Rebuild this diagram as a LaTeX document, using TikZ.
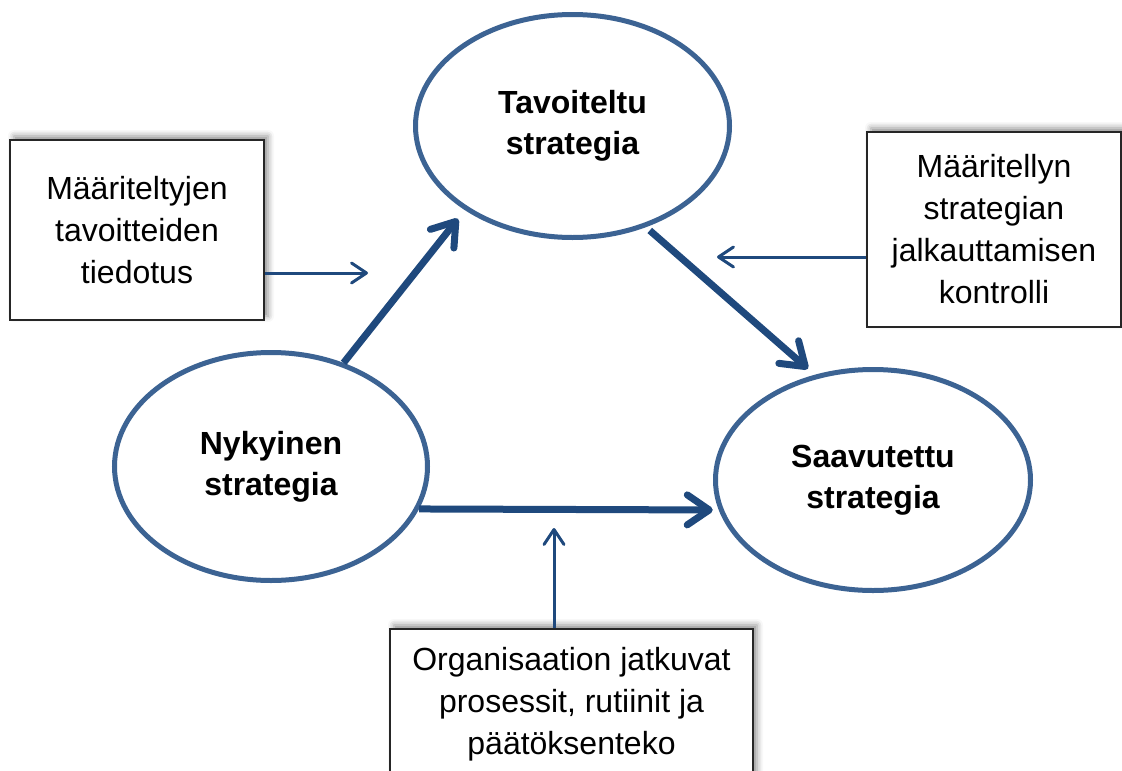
\documentclass[tikz,border=0pt]{standalone}
\usepackage{fontspec}
\setmainfont{Liberation Sans}
\usetikzlibrary{shapes.geometric,arrows.meta,shadows.blur}
\definecolor{ringblue}{HTML}{3C6393}
\definecolor{arrowblue}{HTML}{1F497D}
\definecolor{boxline}{HTML}{262626}
\begin{document}
\begin{tikzpicture}[x=1pt,y=-1pt,
  stage/.style={ellipse, draw=ringblue, line width=5pt, fill=white, align=center,
    font=\bfseries\fontsize{32}{41}\selectfont, inner sep=0pt},
  infobox/.style={rectangle, draw=boxline, line width=1.5pt, fill=white, align=center,
    font=\fontsize{32}{42}\selectfont, inner sep=0pt,
    blur shadow={shadow xshift=4pt, shadow yshift=4pt, shadow blur radius=6pt, shadow opacity=45}},
  flow/.style={draw=arrowblue, line width=7pt, -{Straight Barb[length=22pt,width=30pt,round]}},
  cue/.style={draw=arrowblue, line width=3pt, -{Straight Barb[length=15pt,width=20pt,round]}}]
\useasboundingbox (0,0) rectangle (1122,771);

% strategy stages
\node[stage, minimum width=314pt, minimum height=223pt] (tav) at (572.5,126) {Tavoiteltu\\strategia};
\node[stage, minimum width=313pt, minimum height=228pt] (nyk) at (271,466.5) {Nykyinen\\strategia};
\node[stage, minimum width=315pt, minimum height=221pt] (saav) at (873,480) {Saavutettu\\strategia};

% influencing factors
\node[infobox, minimum width=254pt, minimum height=180pt] (lbox) at (137,230)
  {Määriteltyjen\\tavoitteiden\\tiedotus};
\node[infobox, minimum width=254pt, minimum height=195pt] (rbox) at (994,229.5)
  {Määritellyn\\strategian\\jalkauttamisen\\kontrolli};
\node[infobox, minimum width=363pt, minimum height=150pt] (bbox) at (571.5,704)
  {Organisaation jatkuvat\\prosessit, rutiinit ja\\päätöksenteko};

% main flow between stages
\draw[flow, shorten >=11pt] (nyk.55.8) -- (tav.218);
\draw[flow, shorten <=5pt, shorten >=9pt] (tav.-54.9) -- (saav.119.9);
\draw[flow, shorten >=6pt] (nyk.-16.7) -- (saav.191.2);

% influence arrows
\coordinate (lcue) at (368,273);
\coordinate (rcue) at (717,257);
\coordinate (bcue) at (554,528);
\draw[cue] ([yshift=-43pt]lbox.east) -- (lcue);
\draw[cue] ([yshift=-27.5pt]rbox.west) -- (rcue);
\draw[cue] ([xshift=-17.5pt]bbox.north) -- (bcue);
\end{tikzpicture}
\end{document}
